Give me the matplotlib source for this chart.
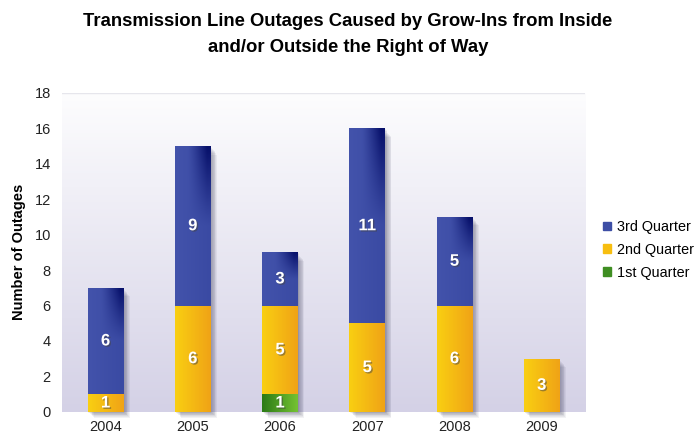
import numpy as np
import matplotlib
matplotlib.use("Agg")
import matplotlib.pyplot as plt
from matplotlib.colors import to_rgb
from matplotlib.patches import Rectangle
import matplotlib.patheffects as pe

plt.rcParams['font.family'] = ['Liberation Sans', 'DejaVu Sans']

years = ['2004', '2005', '2006', '2007', '2008', '2009']
q1 = [0, 0, 1, 0, 0, 0]
q2 = [1, 6, 5, 5, 6, 3]
q3 = [6, 9, 3, 11, 5, 0]
series_names = ['1st Quarter', '2nd Quarter', '3rd Quarter']

# left colour, right colour, dark corner colour
styles = {
    '1st Quarter': ('#2b7a16', '#74c232', None),
    '2nd Quarter': ('#f9cf12', '#f0a316', None),
    '3rd Quarter': ('#4353ab', '#3a4aa3', '#07106a'),
}
legend_colors = {'1st Quarter': '#3f8e22', '2nd Quarter': '#f7be10',
                 '3rd Quarter': '#3d4ea5'}


def gradient_img(left, right, corner, ny=120, nx=60):
    l = np.array(to_rgb(left))
    r = np.array(to_rgb(right))
    xs = np.linspace(0, 1, nx)
    img = l[None, None, :] * (1 - xs[None, :, None]) + r[None, None, :] * xs[None, :, None]
    img = np.repeat(img, ny, axis=0)
    if corner is not None:
        c = np.array(to_rgb(corner))
        ys = np.linspace(0, 1, ny)  # 0 at top
        wx = np.clip((xs - 0.35) / 0.55, 0, 1) ** 1.3
        wy = np.clip(1 - ys / 0.5, 0, 1) ** 1.1
        w = wy[:, None] * wx[None, :]
        img = img * (1 - w[:, :, None]) + c[None, None, :] * w[:, :, None]
    return img


fig = plt.figure(figsize=(6.96, 4.4), dpi=100)
ax = fig.add_axes([0.089, 0.064, 0.752, 0.725])
x = np.arange(len(years))
width = 0.41

ax.set_xlim(-0.5, len(years) - 0.5)
ax.set_ylim(0, 18)

# background gradient
bg = np.linspace(0, 1, 200)[:, None, None]
top = np.array(to_rgb('#fdfdfe'))
bot = np.array(to_rgb('#d4d1e6'))
bg_img = top * (1 - bg) + bot * bg
ax.imshow(bg_img, extent=(-0.5, len(years) - 0.5, 0, 18), aspect='auto',
          zorder=0, origin='upper')

# soft shadows behind total bars
totals = np.array(q1) + np.array(q2) + np.array(q3)
for i, t in enumerate(totals):
    for k in range(8):
        off = 0.009 * (k + 1)
        ax.add_patch(Rectangle((x[i] - width / 2 + off, -0.04 * (k + 1)),
                               width, t - 0.02 * (k + 1), facecolor='#282845',
                               alpha=0.06, edgecolor='none', zorder=1,
                               clip_on=False))

bottom = np.zeros(len(years))
for name, vals in zip(series_names, [q1, q2, q3]):
    vals = np.array(vals)
    bars = ax.bar(x, vals, width, bottom=bottom, color='none',
                  edgecolor='none', zorder=2, label=name)
    left, right, corner = styles[name]
    img = gradient_img(left, right, corner)
    for b, v in zip(bars, vals):
        if v <= 0:
            continue
        x0, y0 = b.get_x(), b.get_y()
        im = ax.imshow(img, extent=(x0, x0 + b.get_width(), y0, y0 + b.get_height()),
                       aspect='auto', zorder=2, origin='upper')
        im.set_clip_path(b)
        ax.text(x0 + b.get_width() / 2, y0 + b.get_height() / 2, str(v),
                ha='center', va='center', color='white', fontsize=12,
                fontweight='bold', zorder=4,
                path_effects=[pe.withSimplePatchShadow(offset=(1, -1),
                                                       shadow_rgbFace='#444444',
                                                       alpha=0.5)])
    bottom = bottom + vals

ax.set_xticks(x)
ax.set_xticklabels(years)
ax.set_yticks(range(0, 19, 2))
ax.tick_params(axis='both', length=0, labelsize=10.5, colors='#222222')
ax.tick_params(axis='y', pad=8)
ax.tick_params(axis='x', pad=6)
for s in ['top', 'right', 'left', 'bottom']:
    ax.spines[s].set_visible(False)
ax.axhline(18, color='#e6e6ec', lw=1, zorder=1)
ax.set_ylabel('Number of Outages', fontsize=10.5, fontweight='bold', labelpad=6)

fig.text(0.5, 1 - 26 / 440, 'Transmission Line Outages Caused by Grow-Ins from Inside',
         ha='center', va='baseline', fontsize=13.3, fontweight='bold')
fig.text(0.5, 1 - 52 / 440, 'and/or Outside the Right of Way',
         ha='center', va='baseline', fontsize=13.3, fontweight='bold')

handles = [Rectangle((0, 0), 1, 1, color=legend_colors[n]) for n in series_names[::-1]]
fig.legend(handles, series_names[::-1], loc='center left',
           bbox_to_anchor=(0.866, 0.432), frameon=False, fontsize=10.4,
           handlelength=0.55, handleheight=0.55, handletextpad=0.45,
           labelspacing=0.6, borderpad=0, borderaxespad=0)

fig.savefig('out.png', dpi=100)
